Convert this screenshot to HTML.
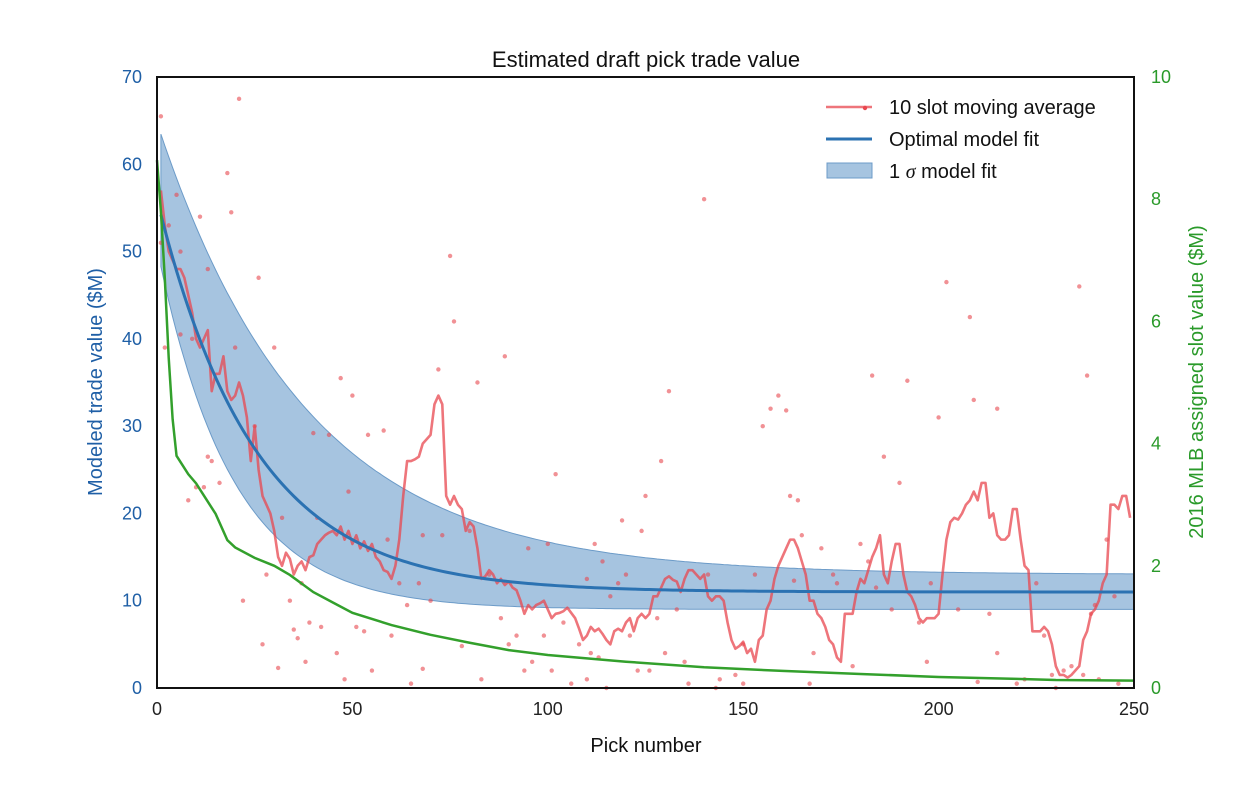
<!DOCTYPE html>
<html><head><meta charset="utf-8"><style>
html,body{margin:0;padding:0;background:#fff;}
svg text{font-family:"Liberation Sans",Arial,sans-serif;}
</style></head><body>
<svg id="chart" width="1260" height="788" xmlns="http://www.w3.org/2000/svg">
<text x="646" y="67" text-anchor="middle" font-size="22" fill="#111">Estimated draft pick trade value</text>
<text x="646" y="752" text-anchor="middle" font-size="20" fill="#111">Pick number</text>
<text transform="translate(102,382) rotate(-90)" text-anchor="middle" font-size="20" fill="#1f5fa6">Modeled trade value ($M)</text>
<text transform="translate(1203,382) rotate(-90)" text-anchor="middle" font-size="20" fill="#2a9a2a">2016 MLB assigned slot value ($M)</text>
<g id="plot"></g>
<g>
<line x1="826" y1="107" x2="872" y2="107" stroke="#e8474f" stroke-opacity="0.75" stroke-width="2.6"/>
<circle cx="865" cy="108" r="2.2" fill="#e8474f"/>
<text x="889" y="114" font-size="20" fill="#111">10 slot moving average</text>
<line x1="826" y1="139" x2="872" y2="139" stroke="#2b72b2" stroke-width="3"/>
<text x="889" y="146" font-size="20" fill="#111">Optimal model fit</text>
<rect x="827" y="163" width="45" height="15" fill="#a6c4e0" stroke="#6c9bc8"/>
<text x="889" y="178" font-size="20" fill="#111">1 <tspan font-style="italic" font-family="Liberation Serif, serif">σ</tspan> model fit</text>
</g>
</svg>
<script>
const movingAvgPicks=[];for(let i=1;i<=249;i++)movingAvgPicks.push(i);
const movingAvgValues=[57,53,50,49,48,48,47,45,43,40,39,40,41,34,36,36,38,34,33,33.5,35,33.5,31,26,30,25,22,21,20,18,15,14,15.5,14.8,13,14,14.5,13.5,15,15.2,16.5,17,17.5,17.8,18,17.5,18.5,17,18,16.5,17.5,16,16.8,15.7,16.5,15,14.5,13.5,13.3,12.5,14,17,22,26,26,26.2,26.5,28,28.5,29,32.5,33.5,32.5,22,21,22,21,20.5,18,19,18.5,16,12.5,12.8,13.5,13,12,12.5,11.8,12.2,11.5,11.2,10,8.5,9.5,9,9.5,9.7,10,9,8,8.5,8.6,8.8,9.2,8.6,8,6.8,5.5,6,7,6.5,6.8,6.2,5.5,5,6.5,6.8,6.5,7.5,8,6.5,8,8.5,8,8.5,10.5,10.5,11.5,12.5,12.8,12.4,12.2,11,12.5,13.5,13.5,13,12.5,13,10.5,10,10.5,10.5,10,7.5,5.5,4.5,4.8,5.3,4,4.5,3,5.5,6,9,10,12.5,14,15,16,17,17,16,14.5,13,10,10,8.5,8,7,5.5,5,3.5,3,8.5,8.5,8.5,11,12.5,12,13.5,15,16,17.5,13,12,14.5,16.5,16.5,13,11,10.5,9.5,8,7.5,8,8,8,8.5,13,17,19,19.5,19.3,20,21,21.5,22.5,21.5,23.5,23.5,19.5,20,17.5,17,17,17.5,20.5,20.5,17,14,13.5,6.5,6.5,6.5,7,6.5,5,2.5,1.5,1.5,1.2,1.5,2,2.5,5.5,6.5,8.5,9,10,12,13,21,21,20.5,22,22,19.5];
const scatterPicks=[1,1,2,3,5,6,6,8,9,10,11,12,13,13,14,16,18,19,20,21,22,25,26,27,28,30,31,32,34,35,36,37,38,39,40,41,42,44,46,47,48,49,50,51,53,54,55,58,59,60,62,64,65,67,68,68,70,72,73,75,76,78,80,82,83,85,88,89,90,92,94,95,96,99,100,101,102,104,106,108,110,110,111,112,113,114,115,116,118,119,120,121,123,124,125,126,128,129,130,131,133,135,136,140,141,143,144,148,150,150,153,155,157,159,161,162,163,164,165,167,168,170,173,174,178,180,182,183,184,186,188,190,192,195,197,198,200,202,205,208,209,210,213,215,215,220,222,225,227,229,230,232,234,236,237,238,239,240,241,243,245,246];
const scatterValues=[65.5,51,39,53,56.5,40.5,50,21.5,40,23,54,23,48,26.5,26,23.5,59,54.5,39,67.5,10,30,47,5,13,39,2.3,19.5,10,6.7,5.7,12,3,7.5,29.2,19.5,7,29,4,35.5,1,22.5,33.5,7,6.5,29,2,29.5,17,6,12,9.5,0.5,12,17.5,2.2,10,36.5,17.5,49.5,42,4.8,18,35,1,13,8,38,5,6,2,16,3,6,16.5,2,24.5,7.5,0.5,5,12.5,1,4,16.5,3.5,14.5,0,10.5,12,19.2,13,6,2,18,22,2,8,26,4,34,9,3,0.5,56,13,0,1,1.5,5,0.5,13,30,32,33.5,31.8,22,12.3,21.5,17.5,0.5,4,16,13,12,2.5,16.5,14.5,35.8,11.5,26.5,9,23.5,35.2,7.5,3,12,31,46.5,9,42.5,33,0.7,8.5,32,4,0.5,1,12,6,1.5,0,2,2.5,46,1.5,35.8,8.5,9.5,1,17,10.5,0.5];
const slotPicks=[0,1,2,3,4,5,6,8,10,12,15,18,20,25,30,34,40,45,50,60,70,80,90,100,120,140,160,180,200,220,230,250];
const slotValues=[8.64,7.8,6.7,5.4,4.4,3.8,3.7,3.5,3.35,3.15,2.85,2.42,2.3,2.13,2.0,1.85,1.57,1.4,1.23,1.03,0.87,0.74,0.62,0.54,0.43,0.34,0.28,0.23,0.18,0.15,0.13,0.12];
// model: [amplitude, decay scale, asymptote]
const fitParams=[45,24.8,11];
const upperParams=[51.8,38,13];
const lowerParams=[41.4,19,9];
const xTicks=[0,50,100,150,200,250];
const yTicks=[0,10,20,30,40,50,60,70];
const y2Ticks=[0,2,4,6,8,10];

const L=157,R=1134,T=77,B=688;
const xs=v=>L+(v/250)*(R-L);
const ys=v=>B-(v/70)*(B-T);
const ys2=v=>B-(v/10)*(B-T);
const NS="http://www.w3.org/2000/svg";
const g=document.getElementById('plot');
function mk(tag,attrs,parent){const e=document.createElementNS(NS,tag);for(const k in attrs)e.setAttribute(k,attrs[k]);(parent||g).appendChild(e);return e;}
const model=(p,x)=>p[0]*Math.exp(-x/p[1])+p[2];

let up=[],lo=[];
for(let x=1;x<=250;x+=1){up.push(xs(x).toFixed(1)+','+ys(model(upperParams,x)).toFixed(1));lo.unshift(xs(x).toFixed(1)+','+ys(model(lowerParams,x)).toFixed(1));}
const band=mk('polygon',{points:up.concat(lo).join(' '),fill:'#a6c4e0',stroke:'#6c9bc8','stroke-width':1});



for(let i=0;i<scatterPicks.length;i++){
  const c=mk('circle',{cx:xs(scatterPicks[i]),cy:ys(scatterValues[i]),r:2.2,fill:'#e8474f','fill-opacity':0.6});
  
  
}
const ma=mk('polyline',{points:movingAvgPicks.map((p,i)=>xs(p)+','+ys(movingAvgValues[i])).join(' '),fill:'none',stroke:'#e8474f','stroke-opacity':0.75,'stroke-width':2.6,'stroke-linejoin':'round'});


let fp=[];for(let x=1;x<=250;x++)fp.push(xs(x)+','+ys(model(fitParams,x)));
const fit=mk('polyline',{points:fp.join(' '),fill:'none',stroke:'#2b72b2','stroke-width':3});


const sl=mk('polyline',{points:slotPicks.map((p,i)=>xs(p)+','+ys2(slotValues[i])).join(' '),fill:'none',stroke:'#33a02c','stroke-width':2.5});



const fr=mk('rect',{x:L,y:T,width:R-L,height:B-T,fill:'none',stroke:'#111','stroke-width':2});



xTicks.forEach(t=>{const e=mk('text',{x:xs(t),y:B+27,'text-anchor':'middle','font-size':18,fill:'#222'});e.textContent=t;

});
yTicks.forEach(t=>{const e=mk('text',{x:L-15,y:ys(t)+6,'text-anchor':'end','font-size':18,fill:'#1f5fa6'});e.textContent=t;

});
y2Ticks.forEach(t=>{const e=mk('text',{x:R+17,y:ys2(t)+6,'text-anchor':'start','font-size':18,fill:'#2a9a2a'});e.textContent=t;

});
</script>
</body></html>
